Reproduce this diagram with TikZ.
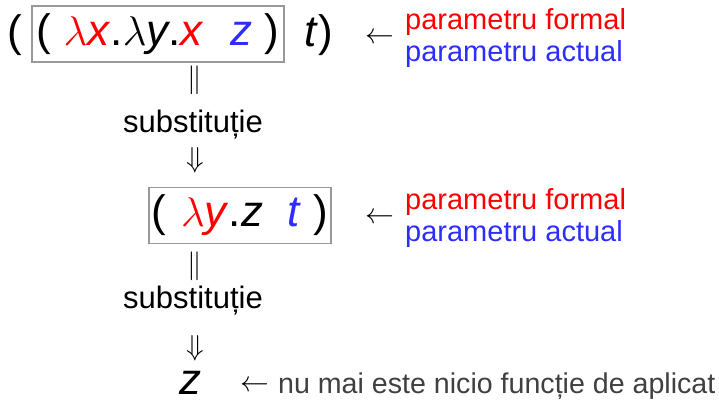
\documentclass[tikz,border=0pt]{standalone}
\usepackage{fontspec}
\setmainfont{Liberation Sans}
\usepackage{xcolor}
\usetikzlibrary{positioning}
\definecolor{formalred}{RGB}{255,0,0}
\definecolor{actualblue}{RGB}{45,45,255}
\newcommand{\vv}[1]{\textit{#1}}
\newcommand{\lam}{$\lambda$}

\begin{document}
\begin{tikzpicture}[
  x=0.5pt, y=-0.5pt,
  expr/.style={font=\fontsize{22}{26}\selectfont, inner sep=0pt},
  redex/.style={expr, draw=black!40, line width=0.6pt, minimum height=28pt},
  sym/.style={font=\fontsize{14}{16}\selectfont, inner sep=0pt},
  steplbl/.style={font=\fontsize{15.5}{18}\selectfont, inner sep=0pt},
  param/.style={font=\fontsize{14.5}{16}\selectfont, align=left, inner sep=0pt},
  note/.style={font=\fontsize{14.3}{16}\selectfont, inner sep=0pt, text=black!75},
]
\useasboundingbox (0,0) rectangle (719,400);
% first application
\node[redex, minimum width=126pt] (r1) at (158,34)
  {( {\color{formalred}\lam\vv{x}}.\lam\vv{y}.{\color{formalred}\vv{x}}\hspace{0.6em}{\color{actualblue}\vv{z}} )};
\node[expr] (lp) at (15,35) {(};
\node[expr] (t1) at (319,35) {\vv{t})};
\node[sym] (a1) at (380,38) {$\leftarrow$};
\node[param, right=5pt of a1] (p1)
  {{\color{formalred}parametru formal}\\{\color{actualblue}parametru actual}};
% first step
\node[sym] (eq1) at (195,80) {$\|$};
\node[steplbl] (s1) at (193,125) {substituție};
\node[sym] (dn1) at (195,160) {$\Downarrow$};
% second application
\node[redex, minimum width=91pt] (r2) at (240,215.5)
  {(\hspace{0.05em} {\color{formalred}\lam\vv{y}}.\vv{z}\hspace{0.55em}{\color{actualblue}\vv{t}} )};
\node[sym] (a2) at (380,218) {$\leftarrow$};
\node[param, right=5pt of a2] (p2)
  {{\color{formalred}parametru formal}\\{\color{actualblue}parametru actual}};
% second step
\node[sym] (eq2) at (195,266) {$\|$};
\node[steplbl] (s2) at (193,301) {substituție};
\node[sym] (dn2) at (195,348) {$\Downarrow$};
% result
\node[expr] (res) at (190,383) {\vv{z}};
\node[sym] (a3) at (255,386) {$\leftarrow$};
\node[note, right=4pt of a3] (n3) {nu mai este nicio funcție de aplicat};
\end{tikzpicture}
\end{document}
